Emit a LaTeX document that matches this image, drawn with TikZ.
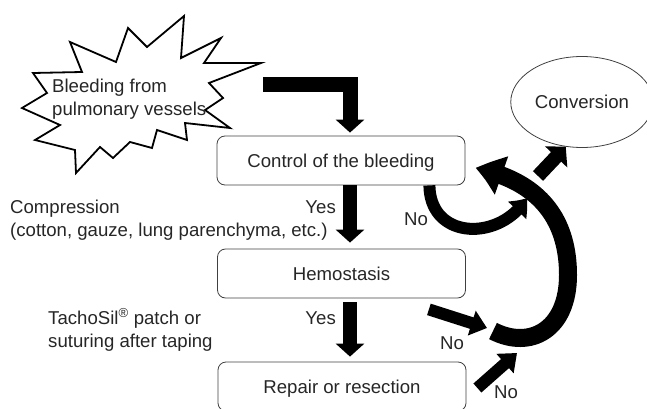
\documentclass[tikz,border=0pt]{standalone}
\usepackage{fontspec}
\setmainfont{Liberation Sans}
\usetikzlibrary{positioning, arrows.meta, bending, shapes.geometric}

\begin{document}
\begin{tikzpicture}[x=1pt,y=-1pt]\tikzset{every node/.style={font=\fontsize{18.6}{23.5}\selectfont, text=black!85}, box/.style={draw=black!75, line width=0.8pt, rounded corners=8pt, minimum width=248pt, minimum height=49pt, text depth=0pt}, fat/.style={draw=black, line width=#1}, lbl/.style={inner sep=0pt, anchor=west, align=left}, }
	\useasboundingbox (0,0) rectangle (647,409);
	\draw[line width=1.8pt, fill=white] (22,108) -- (47,93) -- (33,73) -- (82,72) -- (70,42) -- (116,62) -- (128,28) -- (147,47) -- (184,16) -- (181,58) -- (221,38) -- (204,63) -- (261,63) -- (209,83) -- (223,98) -- (205,110) -- (230,128) -- (185,123) -- (187,140) -- (157,130) -- (152,148) -- (130,142) -- (113,158) -- (100,147) -- (76,173) -- (75,150) -- (35,140) -- (60,125) -- cycle;
	\node[lbl] (bleeding) at (52,99) {Bleeding from\\pulmonary vessels};
	\node[box] (control) at (341,160.5) {Control of the bleeding};
	\node[box] (hemostasis) at (341.5,273.5) {Hemostasis};
	\node[box] (repair) at (342,386.5) {Repair or resection};
	\node[ellipse, draw=black!75, line width=0.8pt, minimum width=128pt, minimum height=91pt, text depth=0pt] (conversion) at (582,102) {Conversion};
	\node[lbl] (compression) at (10,220) {Compression\\(cotton, gauze, lung parenchyma, etc.)};
	\node[lbl] (tachosil) at (48,330) {TachoSil\textsuperscript{\textregistered} patch or\\suturing after taping};
	\node[anchor=east, inner sep=0pt] (yes1) at (336,207) {Yes};
	\node[anchor=east, inner sep=0pt] (yes2) at (336,318) {Yes};
	\node[inner sep=0pt] (no1) at (416,219) {No};
	\node[inner sep=0pt] (no2) at (452,343) {No};
	\node[inner sep=0pt] (no3) at (506,392) {No};
	\coordinate (start) at (263,84.5);
	\coordinate (loopstart) at (493,331);
	\coordinate (convtail) at (538,176);
	\coordinate (noend) at (527,198);
	\coordinate (hemend) at (487,328);
	\coordinate (repend) at (517,353);
	\draw[fat=15pt, -{Triangle[width=28pt,length=13pt]}] (start) -| ([xshift=9pt,yshift=3pt]control.north);
	\draw[fat=14pt, -{Triangle[width=28pt,length=13pt]}] ([xshift=9pt]control.south) -- ([xshift=8.5pt,yshift=6pt]hemostasis.north);
	\draw[fat=14pt, -{Triangle[width=28pt,length=13pt]}] ([xshift=8.5pt,yshift=-4pt]hemostasis.south) -- ([xshift=8pt,yshift=5pt]repair.north);
	\draw[fat=12pt, -{Triangle[width=24pt,length=16pt,bend]}] ([xshift=-36pt]control.south east) .. controls (430,240) and (500,242) .. (noend);
	\draw[fat=18pt, -{Triangle[width=38pt,length=28pt,bend]}] (loopstart) .. controls (530,350) and (568,330) .. (568,275) .. controls (568,215) and (535,180) .. ([xshift=10pt,yshift=-7.5pt]control.east);
	\draw[fat=14pt, -{Triangle[width=30pt,length=14pt]}] (convtail) -- (conversion.-110);
	\draw[fat=12pt, -{Triangle[width=25pt,length=16pt]}] ([xshift=-37pt,yshift=-11pt]hemostasis.south east) -- (hemend);
	\draw[fat=12pt, -{Triangle[width=25pt,length=16pt]}] ([xshift=11pt,yshift=-1.5pt]repair.east) -- (repend);
\end{tikzpicture}
\end{document}
